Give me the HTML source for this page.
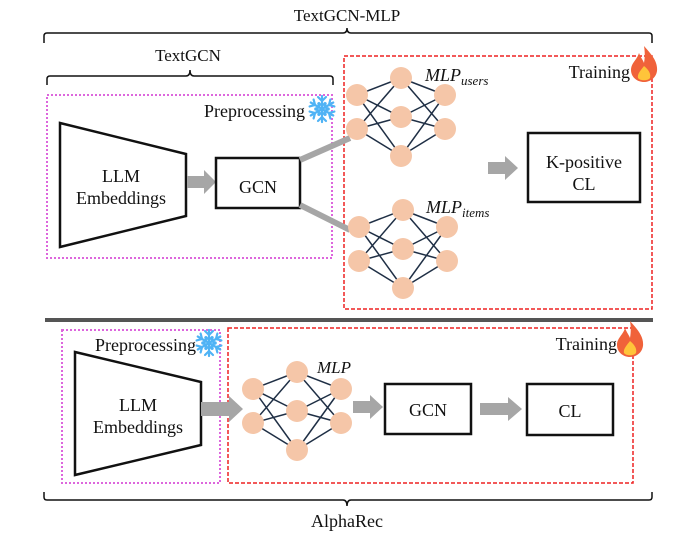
<!DOCTYPE html>
<html><head><style>
body{margin:0;background:#fff;}
svg{display:block;}
text{font-family:"Liberation Serif",serif;fill:#111;}
</style></head><body>
<svg width="698" height="537" viewBox="0 0 698 537" xmlns="http://www.w3.org/2000/svg">
<defs>
<g id="mlp">
  <g stroke="#1f2f45" stroke-width="1.5">
    <line x1="0" y1="17" x2="44" y2="0"/><line x1="0" y1="17" x2="44" y2="39"/><line x1="0" y1="17" x2="44" y2="78"/>
    <line x1="0" y1="51" x2="44" y2="0"/><line x1="0" y1="51" x2="44" y2="39"/><line x1="0" y1="51" x2="44" y2="78"/>
    <line x1="88" y1="17" x2="44" y2="0"/><line x1="88" y1="17" x2="44" y2="39"/><line x1="88" y1="17" x2="44" y2="78"/>
    <line x1="88" y1="51" x2="44" y2="0"/><line x1="88" y1="51" x2="44" y2="39"/><line x1="88" y1="51" x2="44" y2="78"/>
  </g>
  <g fill="#f5c6a8">
    <circle cx="0" cy="17" r="11"/><circle cx="0" cy="51" r="11"/>
    <circle cx="44" cy="0" r="11"/><circle cx="44" cy="39" r="11"/><circle cx="44" cy="78" r="11"/>
    <circle cx="88" cy="17" r="11"/><circle cx="88" cy="51" r="11"/>
  </g>
</g>
<g id="snow" stroke="#4fb3f5" stroke-width="2.2" stroke-linecap="round" fill="none">
  <g id="arm"><line x1="0" y1="0" x2="0" y2="-13"/><polyline points="-4,-12 0,-8 4,-12"/><polyline points="-3,-6 0,-3 3,-6"/></g>
  <use href="#arm" transform="rotate(60)"/><use href="#arm" transform="rotate(120)"/>
  <use href="#arm" transform="rotate(180)"/><use href="#arm" transform="rotate(240)"/><use href="#arm" transform="rotate(300)"/>
</g>
<g id="fire">
  <path d="M0,-18 C7,-10 14,-3 13,7 C12,14 6,18 0,18 C-7,18 -13,13 -13,6 C-13,-1 -7,-4 -5,-11 C-3,-6 -1,-4 0,-1 C1,-7 1,-12 0,-18 Z" fill="#f0623a"/>
  <path d="M0,2 C5,6 7,10 6,14 C4,17 -4,17 -6,14 C-7,10 -3,6 0,2 Z" fill="#ffc43a"/>
</g>
</defs>

<text x="347" y="21" font-size="17" text-anchor="middle">TextGCN-MLP</text>
<path d="M44,43 V36 Q44,33 47,33 H343 Q347,33 347,28 Q347,33 351,33 H649 Q652,33 652,36 V43" fill="none" stroke="#111" stroke-width="1.5"/>

<text x="188" y="61" font-size="17" text-anchor="middle">TextGCN</text>
<path d="M47,85 V79 Q47,76 50,76 H186 Q190,76 190,70 Q190,76 194,76 H330 Q333,76 333,79 V85" fill="none" stroke="#111" stroke-width="1.5"/>

<rect x="47" y="95" width="285" height="163" fill="none" stroke="#dd66dd" stroke-width="2" stroke-dasharray="2,2"/>
<text x="305" y="117" font-size="18" text-anchor="end">Preprocessing</text>
<use href="#snow" x="322" y="109"/>

<rect x="344" y="56" width="308" height="253" fill="none" stroke="#ee2222" stroke-width="1.5" stroke-dasharray="4,2"/>
<text x="630" y="78" font-size="18" text-anchor="end">Training</text>
<use href="#fire" x="644" y="64"/>

<polygon points="60,123 186,154 186,216 60,247" fill="#fff" stroke="#111" stroke-width="2.5"/>
<text x="121" y="182" font-size="18" text-anchor="middle">LLM</text>
<text x="121" y="204" font-size="18" text-anchor="middle">Embeddings</text>
<path d="M187,176 H204 V170 L216,182 L204,194 V188 H187 Z" fill="#a6a6a6"/>
<rect x="216" y="158" width="84" height="50" fill="#fff" stroke="#111" stroke-width="2.5"/>
<text x="258" y="193" font-size="18" text-anchor="middle">GCN</text>
<line x1="300" y1="160" x2="350" y2="138" stroke="#a6a6a6" stroke-width="6"/>
<line x1="300" y1="205" x2="350" y2="230" stroke="#a6a6a6" stroke-width="6"/>

<use href="#mlp" x="357" y="78"/>
<text x="425" y="81" font-size="18" font-style="italic">MLP<tspan font-size="13" dy="4">users</tspan></text>
<use href="#mlp" x="359" y="210"/>
<text x="426" y="213" font-size="18" font-style="italic">MLP<tspan font-size="13" dy="4">items</tspan></text>

<path d="M488,162 H505 V156 L518,168 L505,180 V174 H488 Z" fill="#a6a6a6"/>
<rect x="528" y="133" width="112" height="69" fill="#fff" stroke="#111" stroke-width="2.5"/>
<text x="584" y="168" font-size="18" text-anchor="middle">K-positive</text>
<text x="584" y="190" font-size="18" text-anchor="middle">CL</text>

<rect x="45" y="318" width="608" height="4" fill="#555"/>

<rect x="62" y="330" width="158" height="153" fill="none" stroke="#dd66dd" stroke-width="2" stroke-dasharray="2,2"/>
<text x="196" y="351" font-size="18" text-anchor="end">Preprocessing</text>
<use href="#snow" x="209" y="343"/>

<rect x="228" y="328" width="405" height="155" fill="none" stroke="#ee2222" stroke-width="1.5" stroke-dasharray="4,2"/>
<text x="617" y="350" font-size="18" text-anchor="end">Training</text>
<use href="#fire" x="630" y="339"/>

<polygon points="75,352 201,382 201,445 75,475" fill="#fff" stroke="#111" stroke-width="2.5"/>
<text x="138" y="411" font-size="18" text-anchor="middle">LLM</text>
<text x="138" y="433" font-size="18" text-anchor="middle">Embeddings</text>
<path d="M201,402 H229 V396 L243,409 L229,422 V416 H201 Z" fill="#a6a6a6"/>

<use href="#mlp" x="253" y="372"/>
<text x="317" y="373" font-size="17" font-style="italic">MLP</text>

<path d="M353,401 H370 V395 L383,407 L370,419 V413 H353 Z" fill="#a6a6a6"/>
<rect x="385" y="384" width="86" height="50" fill="#fff" stroke="#111" stroke-width="2.5"/>
<text x="428" y="416" font-size="18" text-anchor="middle">GCN</text>
<path d="M480,403 H508 V397 L522,409 L508,421 V415 H480 Z" fill="#a6a6a6"/>
<rect x="527" y="384" width="86" height="51" fill="#fff" stroke="#111" stroke-width="2.5"/>
<text x="570" y="417" font-size="18" text-anchor="middle">CL</text>

<path d="M44,492 V497 Q44,500 47,500 H343 Q347,500 347,506 Q347,500 351,500 H649 Q652,500 652,497 V492" fill="none" stroke="#111" stroke-width="1.5"/>
<text x="347" y="527" font-size="18" text-anchor="middle">AlphaRec</text>
</svg>
</body></html>
